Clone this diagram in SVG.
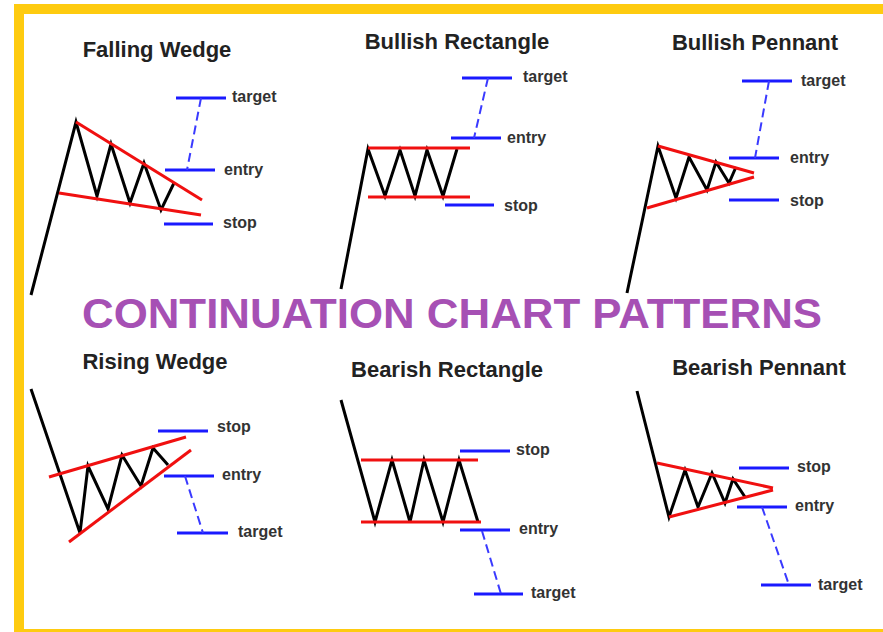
<svg xmlns="http://www.w3.org/2000/svg" width="883" height="632" viewBox="0 0 883 632">
<style>
.title{font-family:"Liberation Sans",Arial,sans-serif;font-weight:bold;font-size:22px;fill:#222;text-anchor:middle}
.lbl{font-family:"Liberation Sans",Arial,sans-serif;font-weight:bold;font-size:16px;fill:#333}
.price{fill:none;stroke:#000;stroke-width:3;stroke-linejoin:miter;stroke-linecap:butt}
.trend{fill:none;stroke:#f01010;stroke-width:3}
.lvl{stroke:#1a1aff;stroke-width:3}
.dash{stroke:#3a3aff;stroke-width:2;stroke-dasharray:9 5}
.main{font-family:"Liberation Sans",Arial,sans-serif;font-weight:bold;font-size:43px;fill:#a650b4}
</style>
<rect x="0" y="0" width="883" height="632" fill="#fff"/>
<rect x="19" y="9" width="900" height="625" fill="#fff" stroke="#fecb10" stroke-width="10"/>
<text class="main" x="82" y="328" textLength="740" lengthAdjust="spacingAndGlyphs">CONTINUATION CHART PATTERNS</text>

<g id="falling-wedge">
<text class="title" x="157" y="57">Falling Wedge</text>
<polyline class="price" points="31,295 76,122 97,196 111,144 130,203 144,163 161,210 174,183"/>
<line class="trend" x1="76" y1="122" x2="202" y2="200"/>
<line class="trend" x1="59" y1="193" x2="201" y2="215"/>
<line class="lvl" x1="176" y1="98" x2="226" y2="98"/>
<line class="lvl" x1="165" y1="170" x2="215" y2="170"/>
<line class="lvl" x1="164" y1="224" x2="213" y2="224"/>
<line class="dash" x1="201" y1="98" x2="187" y2="170"/>
<text class="lbl" x="232" y="102">target</text>
<text class="lbl" x="224" y="175">entry</text>
<text class="lbl" x="223" y="228">stop</text>
</g>

<g id="bullish-rectangle">
<text class="title" x="457" y="49">Bullish Rectangle</text>
<polyline class="price" points="341,289 368,149 385,196 400,150 415,196 427,150 443,196 457,149"/>
<line class="trend" x1="368" y1="148" x2="470" y2="148"/>
<line class="trend" x1="368" y1="197" x2="470" y2="197"/>
<line class="lvl" x1="462" y1="78" x2="512" y2="78"/>
<line class="lvl" x1="451" y1="138" x2="501" y2="138"/>
<line class="lvl" x1="445" y1="205" x2="494" y2="205"/>
<line class="dash" x1="488" y1="78" x2="474" y2="138"/>
<text class="lbl" x="523" y="82">target</text>
<text class="lbl" x="507" y="143">entry</text>
<text class="lbl" x="504" y="211">stop</text>
</g>

<g id="bullish-pennant">
<text class="title" x="755" y="50">Bullish Pennant</text>
<polyline class="price" points="627,293 658,146 676,198 689,157 707,190 716,162 729,183 736,167"/>
<line class="trend" x1="658" y1="146" x2="754" y2="173"/>
<line class="trend" x1="647" y1="208" x2="754" y2="177"/>
<line class="lvl" x1="742" y1="81" x2="792" y2="81"/>
<line class="lvl" x1="729" y1="158" x2="779" y2="158"/>
<line class="lvl" x1="729" y1="200" x2="779" y2="200"/>
<line class="dash" x1="769" y1="81" x2="755" y2="158"/>
<text class="lbl" x="801" y="86">target</text>
<text class="lbl" x="790" y="163">entry</text>
<text class="lbl" x="790" y="206">stop</text>
</g>

<g id="rising-wedge">
<text class="title" x="155" y="369">Rising Wedge</text>
<polyline class="price" points="31,389 80,533 88,466 108,509 122,455 141,486 153,448 168,465"/>
<line class="trend" x1="49" y1="477" x2="186" y2="437"/>
<line class="trend" x1="69" y1="542" x2="191" y2="450"/>
<line class="lvl" x1="158" y1="431" x2="208" y2="431"/>
<line class="lvl" x1="164" y1="476" x2="214" y2="476"/>
<line class="lvl" x1="177" y1="533" x2="228" y2="533"/>
<line class="dash" x1="185" y1="476" x2="203" y2="533"/>
<text class="lbl" x="217" y="432">stop</text>
<text class="lbl" x="222" y="480">entry</text>
<text class="lbl" x="238" y="537">target</text>
</g>

<g id="bearish-rectangle">
<text class="title" x="447" y="377">Bearish Rectangle</text>
<polyline class="price" points="341,400 375,522 392,460 410,522 424,460 443,522 459,460 478,522"/>
<line class="trend" x1="361" y1="460" x2="478" y2="460"/>
<line class="trend" x1="361" y1="522" x2="481" y2="522"/>
<line class="lvl" x1="460" y1="451" x2="510" y2="451"/>
<line class="lvl" x1="460" y1="530" x2="510" y2="530"/>
<line class="lvl" x1="474" y1="594" x2="523" y2="594"/>
<line class="dash" x1="482" y1="531" x2="501" y2="594"/>
<text class="lbl" x="516" y="455">stop</text>
<text class="lbl" x="519" y="534">entry</text>
<text class="lbl" x="531" y="598">target</text>
</g>

<g id="bearish-pennant">
<text class="title" x="759" y="375">Bearish Pennant</text>
<polyline class="price" points="637,391 669,517 685,470 698,507 712,473 725,503 733,479 745,497"/>
<line class="trend" x1="657" y1="463" x2="773" y2="488"/>
<line class="trend" x1="669" y1="517" x2="773" y2="490"/>
<line class="lvl" x1="739" y1="468" x2="789" y2="468"/>
<line class="lvl" x1="737" y1="507" x2="787" y2="507"/>
<line class="lvl" x1="761" y1="585" x2="811" y2="585"/>
<line class="dash" x1="762" y1="507" x2="789" y2="585"/>
<text class="lbl" x="797" y="472">stop</text>
<text class="lbl" x="795" y="511">entry</text>
<text class="lbl" x="818" y="590">target</text>
</g>
</svg>
